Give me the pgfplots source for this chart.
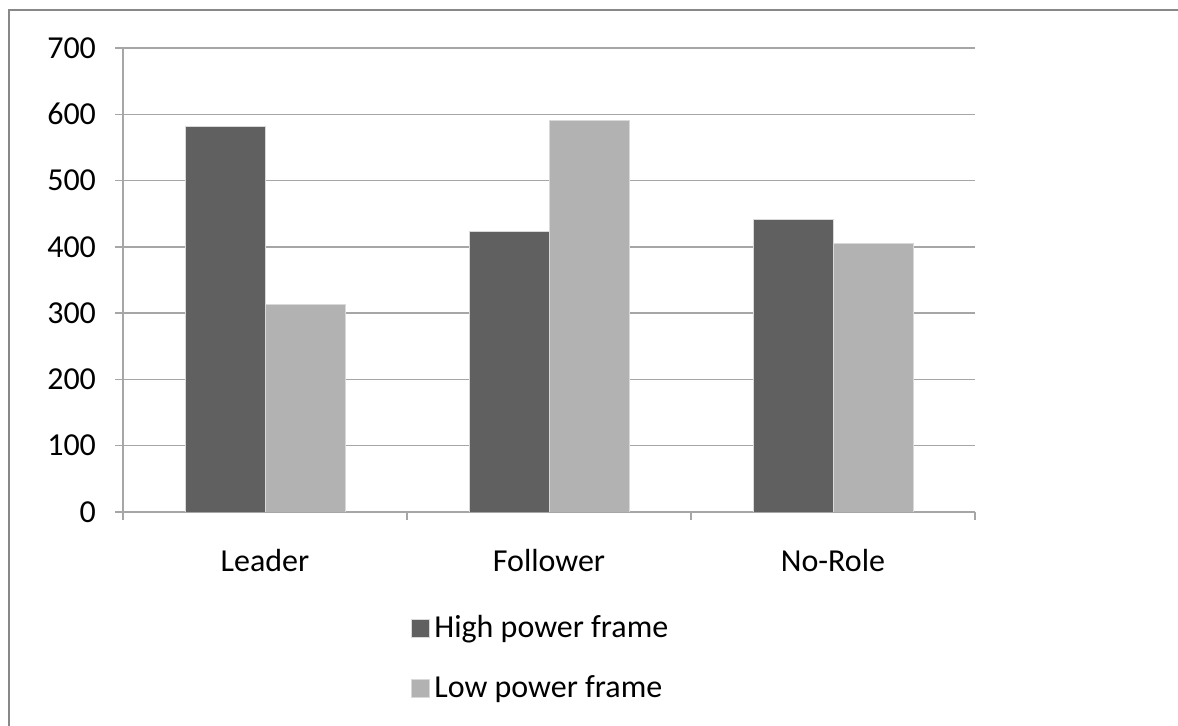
\documentclass[border=0pt]{standalone}
\usepackage{fontspec}
\setmainfont{Carlito}
\usepackage{pgfplots}
\pgfplotsset{compat=1.18}
\definecolor{hiclr}{HTML}{606060}
\definecolor{loclr}{HTML}{B2B2B2}
\definecolor{gridclr}{HTML}{A6A6A6}
\definecolor{bordclr}{HTML}{888888}
\begin{document}
\begin{tikzpicture}
\begin{axis}[
  at={(61.5pt,107pt)}, anchor=south west,
  scale only axis, width=426pt, height=232pt,
  xmin=-0.5, xmax=2.5, ymin=0, ymax=700,
  ybar=0pt, bar width=40pt,
  axis lines*=left,
  axis line style={draw=gridclr, line width=0.75pt},
  ymajorgrids, grid style={draw=gridclr, line width=0.75pt},
  ytick={0,100,...,700},
  xtick={-0.5,0.5,1.5,2.5}, xticklabels={},
  extra x ticks={0,1,2},
  extra x tick labels={Leader,Follower,No-Role},
  extra x tick style={major tick length=0pt, grid=none},
  tick align=outside, major tick length=4pt,
  tick style={draw=gridclr, line width=0.75pt},
  /pgf/number format/assume math mode=true,
  tick label style={font=\fontsize{16}{19}\selectfont, text=black},
  yticklabel style={xshift=-6pt},
  xticklabel style={anchor=base, yshift=-30pt},
  legend style={at={(0.330,-0.209)}, anchor=north west, draw=none, fill=none,
    font=\fontsize{16}{19}\selectfont, row sep=15.5pt,
    nodes={inner xsep=2.5pt, inner ysep=1pt}},
  legend cell align=left,
  legend image code/.code={\fill[#1] (0pt,-4.5pt) rectangle (9pt,4.5pt);},
]
\addplot[fill=hiclr, draw=white!85!black, line width=0.4pt] coordinates {(0,582) (1,423) (2,442)};
\addplot[fill=loclr, draw=white!85!black, line width=0.4pt] coordinates {(0,313) (1,591) (2,405)};
\legend{High power frame, Low power frame}
\end{axis}
\draw[bordclr, line width=1.3pt] (4.5pt,0pt) -- (4.5pt,358pt) -- (589pt,358pt);
\pgfresetboundingbox
\useasboundingbox (0,0) rectangle (589pt,363pt);
\end{tikzpicture}
\end{document}
